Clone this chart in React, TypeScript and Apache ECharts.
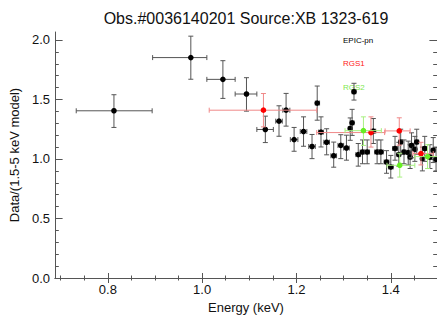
import React, { useEffect, useRef } from "react";
import * as echarts from "echarts";

// EPIC-pn
const epicE = [0.813, 0.976, 1.044, 1.094, 1.134, 1.163, 1.178, 1.195, 1.215, 1.233, 1.244, 1.252, 1.264, 1.279, 1.294, 1.306, 1.314, 1.318, 1.322, 1.331, 1.340, 1.350, 1.363, 1.371, 1.379, 1.391, 1.400, 1.409, 1.417, 1.421, 1.428, 1.437, 1.441, 1.444, 1.451, 1.455, 1.467, 1.472, 1.483, 1.490, 1.496];
const epicELo = [0.733, 0.895, 1.010, 1.070, 1.116, 1.156, 1.171, 1.187, 1.208, 1.226, 1.240, 1.247, 1.258, 1.273, 1.288, 1.300, 1.310, 1.314, 1.318, 1.326, 1.335, 1.345, 1.358, 1.366, 1.374, 1.386, 1.395, 1.404, 1.413, 1.417, 1.424, 1.433, 1.437, 1.440, 1.447, 1.451, 1.463, 1.468, 1.479, 1.486, 1.492];
const epicEHi = [0.894, 1.010, 1.070, 1.116, 1.151, 1.170, 1.186, 1.203, 1.222, 1.240, 1.249, 1.257, 1.270, 1.285, 1.300, 1.312, 1.318, 1.322, 1.326, 1.336, 1.345, 1.355, 1.368, 1.376, 1.384, 1.396, 1.405, 1.414, 1.421, 1.425, 1.432, 1.441, 1.445, 1.448, 1.455, 1.459, 1.471, 1.476, 1.487, 1.494, 1.500];
const epicR = [1.405, 1.852, 1.669, 1.546, 1.248, 1.318, 1.410, 1.163, 1.231, 1.105, 1.470, 1.226, 1.141, 1.027, 1.114, 1.092, 1.256, 1.304, 1.565, 1.037, 1.059, 1.059, 1.234, 1.059, 1.059, 0.975, 0.933, 1.088, 1.037, 1.143, 1.059, 1.054, 1.017, 1.115, 1.082, 1.143, 1.003, 1.088, 1.017, 1.073, 0.997];
const epicRLo = [1.265, 1.670, 1.509, 1.402, 1.138, 1.191, 1.276, 1.065, 1.107, 1.003, 1.326, 1.101, 1.035, 0.931, 1.003, 0.990, 1.157, 1.198, 1.495, 0.940, 0.960, 0.960, 1.130, 0.960, 0.960, 0.880, 0.840, 0.990, 0.940, 1.040, 0.960, 0.950, 0.920, 1.010, 0.980, 1.040, 0.900, 0.980, 0.920, 0.970, 0.900];
const epicRHi = [1.540, 2.032, 1.826, 1.683, 1.360, 1.447, 1.551, 1.265, 1.354, 1.206, 1.613, 1.354, 1.254, 1.142, 1.204, 1.200, 1.345, 1.417, 1.636, 1.130, 1.160, 1.160, 1.340, 1.160, 1.160, 1.070, 1.030, 1.190, 1.140, 1.250, 1.160, 1.150, 1.120, 1.220, 1.190, 1.250, 1.100, 1.190, 1.120, 1.180, 1.100];

// RGS1
const rgs1E = [1.130, 1.358, 1.418, 1.464];
const rgs1ELo = [1.015, 1.243, 1.388, 1.447];
const rgs1EHi = [1.243, 1.387, 1.441, 1.490];
const rgs1R = [1.410, 1.222, 1.236, 1.045];
const rgs1RLo = [1.270, 1.100, 1.116, 0.950];
const rgs1RHi = [1.550, 1.354, 1.346, 1.140];

// RGS2
const rgs2E = [1.342, 1.419, 1.478];
const rgs2ELo = [1.303, 1.392, 1.451];
const rgs2EHi = [1.380, 1.451, 1.510];
const rgs2R = [1.238, 0.947, 1.020];
const rgs2RLo = [1.114, 0.848, 0.920];
const rgs2RHi = [1.354, 1.048, 1.120];

const xMajor = [0.8, 1.0, 1.2, 1.4];
const xMinor = [0.7, 0.75, 0.85, 0.9, 0.95, 1.05, 1.1, 1.15, 1.25, 1.3, 1.35, 1.45];
const yMajor = [0.0, 0.5, 1.0, 1.5, 2.0];
const yMinor = [0.1, 0.2, 0.3, 0.4, 0.6, 0.7, 0.8, 0.9, 1.1, 1.2, 1.3, 1.4, 1.6, 1.7, 1.8, 1.9];

const FONT = "Liberation Sans";
const AX = "#555";

const build = (e: number[], el: number[], eh: number[], r: number[], rl: number[], rh: number[]) =>
  e.map((v, i) => [v, el[i], eh[i], r[i], rl[i], rh[i]]);

const makeRender = (pointColor: string, barColor: string) => (_params: any, api: any) => {
  const x = api.value(0), xl = api.value(1), xh = api.value(2);
  const y = api.value(3), yl = api.value(4), yh = api.value(5);
  const c = api.coord([x, y]);
  const pl = api.coord([xl, y]);
  const ph = api.coord([xh, y]);
  const pyl = api.coord([x, yl]);
  const pyh = api.coord([x, yh]);
  const cap = 2.5;
  const style = { stroke: barColor, lineWidth: 1 };
  return {
    type: "group",
    children: [
      { type: "line", shape: { x1: pl[0], y1: c[1], x2: ph[0], y2: c[1] }, style },
      { type: "line", shape: { x1: pl[0], y1: c[1] - cap, x2: pl[0], y2: c[1] + cap }, style },
      { type: "line", shape: { x1: ph[0], y1: c[1] - cap, x2: ph[0], y2: c[1] + cap }, style },
      { type: "line", shape: { x1: c[0], y1: pyl[1], x2: c[0], y2: pyh[1] }, style },
      { type: "line", shape: { x1: c[0] - cap, y1: pyl[1], x2: c[0] + cap, y2: pyl[1] }, style },
      { type: "line", shape: { x1: c[0] - cap, y1: pyh[1], x2: c[0] + cap, y2: pyh[1] }, style },
      { type: "circle", shape: { cx: c[0], cy: c[1], r: 2.8 }, style: { fill: pointColor } },
    ],
  };
};

const X_MIN = 0.688;
const X_MAX = 1.498;
const Y_MIN = 0;
const Y_MAX = 2.067;

function xAxisDef(position: string, ticks: number[], len: number, labels: boolean, line: boolean) {
  return {
    type: "value",
    position,
    min: X_MIN,
    max: X_MAX,
    axisLine: { show: line, lineStyle: { color: AX, width: 1 } },
    axisTick: { show: true, inside: true, length: len, customValues: ticks, lineStyle: { color: AX, width: 1 } },
    axisLabel: labels
      ? { show: true, customValues: ticks, formatter: (v: number) => v.toFixed(1), color: "#111", fontSize: 13, fontFamily: FONT, margin: 5 }
      : { show: false },
    splitLine: { show: false },
  };
}

function yAxisDef(position: string, ticks: number[], len: number, labels: boolean, line: boolean) {
  return {
    type: "value",
    position,
    min: Y_MIN,
    max: Y_MAX,
    axisLine: { show: line, lineStyle: { color: AX, width: 1 } },
    axisTick: { show: true, inside: true, length: len, customValues: ticks, lineStyle: { color: AX, width: 1 } },
    axisLabel: labels
      ? { show: true, customValues: ticks, formatter: (v: number) => v.toFixed(1), color: "#111", fontSize: 13, fontFamily: FONT, margin: 5 }
      : { show: false },
    splitLine: { show: false },
  };
}

export default function App() {
  const ref = useRef<HTMLDivElement>(null);
  useEffect(() => {
    if (!ref.current) return;
    const chart = echarts.init(ref.current, undefined, { renderer: "svg" });
    const xMain: any = xAxisDef("bottom", xMajor, 5, true, true);
    xMain.name = "Energy (keV)";
    xMain.nameLocation = "middle";
    xMain.nameGap = 21;
    xMain.nameTextStyle = { fontSize: 13, fontFamily: FONT, color: "#111" };
    const yMain: any = yAxisDef("left", yMajor, 7.6, true, true);
    yMain.name = "Data/(1.5-5 keV model)";
    yMain.nameLocation = "middle";
    yMain.nameGap = 33;
    yMain.nameTextStyle = { fontSize: 13, fontFamily: FONT, color: "#111" };
    chart.setOption({
      animation: false,
      backgroundColor: "#fff",
      grid: { left: 55, right: 0, top: 32, bottom: 46, containLabel: false, outerBoundsMode: "none" },
      xAxis: [
        xMain,
        xAxisDef("bottom", xMinor, 2.5, false, false),
        xAxisDef("top", xMajor, 5, false, true),
        xAxisDef("top", xMinor, 2.5, false, false),
      ],
      yAxis: [
        yMain,
        yAxisDef("left", yMinor, 3.8, false, false),
        yAxisDef("right", yMajor, 7.6, false, true),
        yAxisDef("right", yMinor, 3.8, false, false),
      ],
      graphic: [
        { type: "text", x: 246, y: 18, style: { text: "Obs.#0036140201 Source:XB 1323-619", fontSize: 16, fontFamily: FONT, fill: "#111", textAlign: "center", textVerticalAlign: "middle" } },
        { type: "text", x: 343, y: 40, style: { text: "EPIC-pn", fontSize: 8, fontFamily: FONT, fill: "#000", textAlign: "left", textVerticalAlign: "middle" } },
        { type: "text", x: 343, y: 63.5, style: { text: "RGS1", fontSize: 8, fontFamily: FONT, fill: "#ff2020", textAlign: "left", textVerticalAlign: "middle" } },
        { type: "text", x: 343, y: 87.5, style: { text: "RGS2", fontSize: 8, fontFamily: FONT, fill: "#80e850", textAlign: "left", textVerticalAlign: "middle" } },
      ],
      series: [
        {
          type: "custom",
          name: "EPIC-pn",
          silent: true,
          xAxisIndex: 0,
          yAxisIndex: 0,
          renderItem: makeRender("#000", "#555"),
          encode: { x: [0, 1, 2], y: [3, 4, 5] },
          data: build(epicE, epicELo, epicEHi, epicR, epicRLo, epicRHi),
        },
        {
          type: "custom",
          name: "RGS1",
          silent: true,
          xAxisIndex: 0,
          yAxisIndex: 0,
          renderItem: makeRender("#ff0000", "#f08888"),
          encode: { x: [0, 1, 2], y: [3, 4, 5] },
          data: build(rgs1E, rgs1ELo, rgs1EHi, rgs1R, rgs1RLo, rgs1RHi),
        },
        {
          type: "custom",
          name: "RGS2",
          silent: true,
          xAxisIndex: 0,
          yAxisIndex: 0,
          renderItem: makeRender("#66ee22", "#a8f080"),
          encode: { x: [0, 1, 2], y: [3, 4, 5] },
          data: build(rgs2E, rgs2ELo, rgs2EHi, rgs2R, rgs2RLo, rgs2RHi),
        },
      ],
    });
    return () => chart.dispose();
  }, []);
  return <div ref={ref} style={{ position: "fixed", left: 0, top: 0, width: 437, height: 324 }} />;
}
